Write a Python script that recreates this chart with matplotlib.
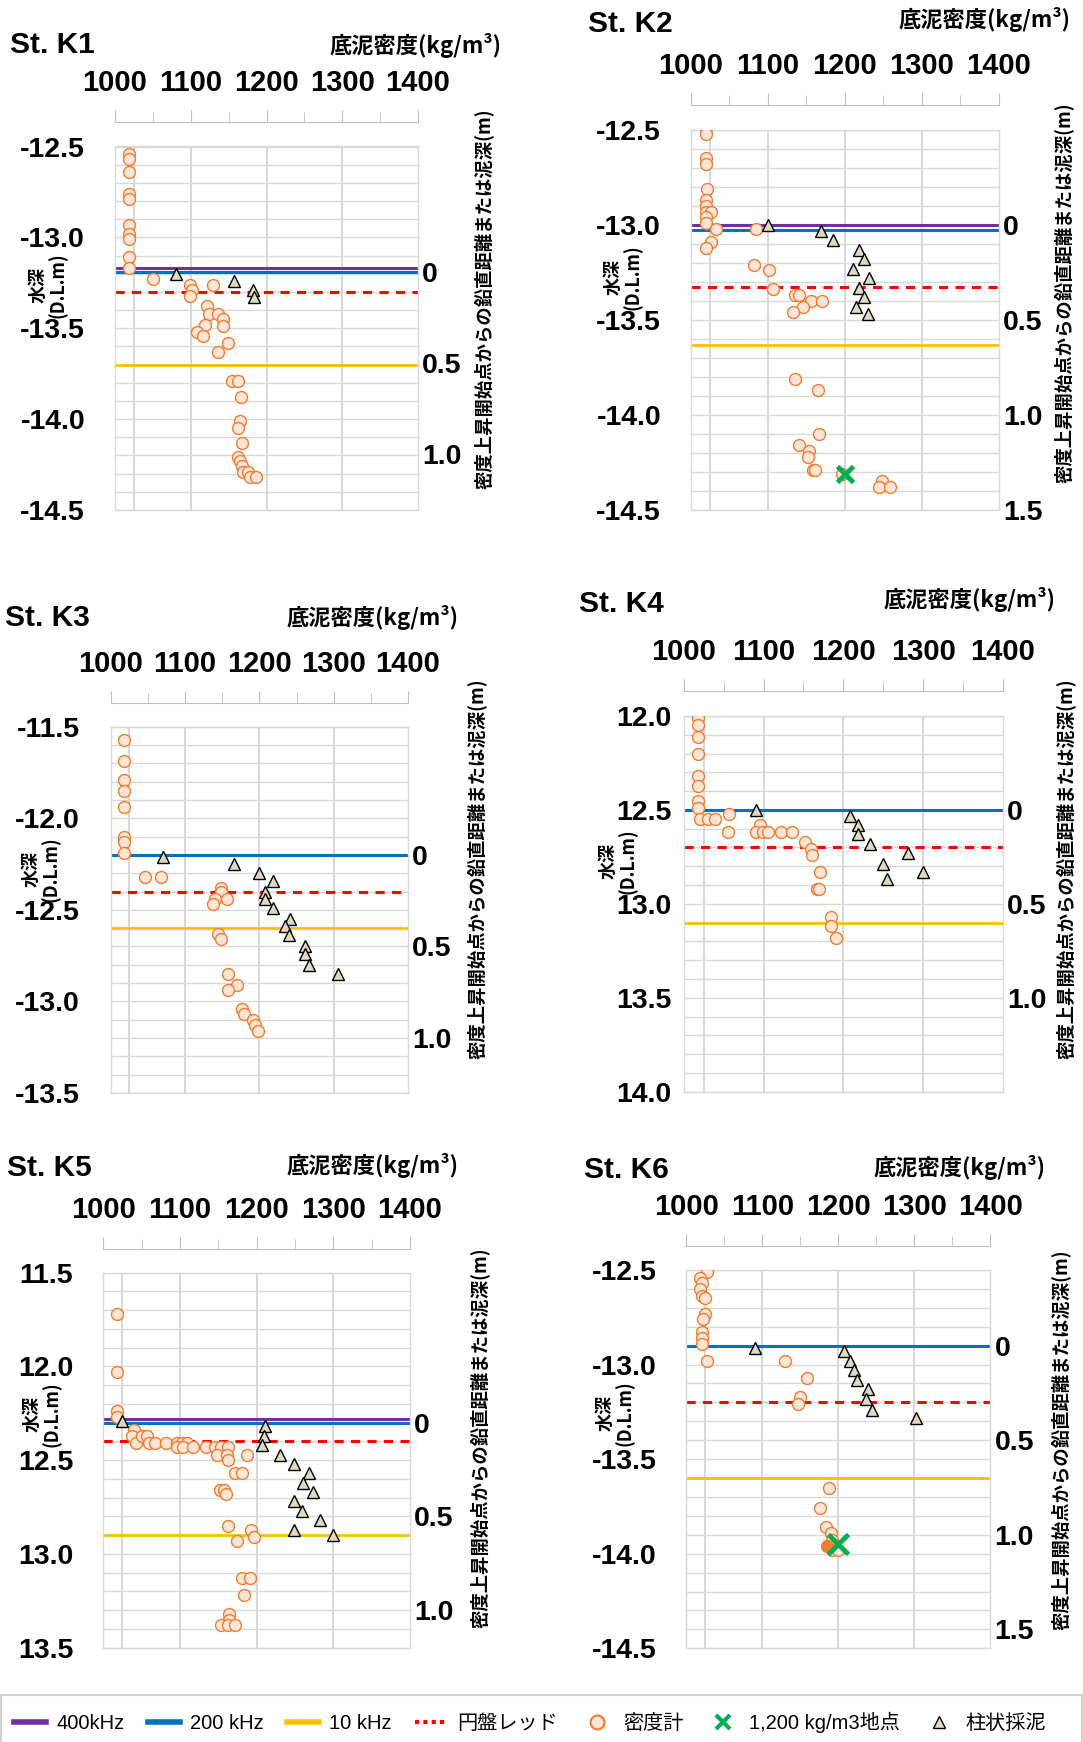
import numpy as np
import matplotlib.pyplot as plt
from matplotlib.lines import Line2D
from matplotlib.patches import Rectangle

plt.rcParams['font.family'] = ['Liberation Sans', 'Noto Sans CJK JP', 'DejaVu Sans']

W, H = 1083, 1742

#---------Data-------------------------------------------------
stations = ['St. K1', 'St. K2', 'St. K3', 'St. K4', 'St. K5', 'St. K6']

# St. K1 (depth negative, D.L.)
k1_dens = [1019, 1019, 1018, 1019, 1019, 1019, 1019, 1019, 1019, 1019, 1050, 1099, 1102, 1099,
           1130, 1121, 1124, 1136, 1143, 1143, 1119, 1108, 1116, 1149, 1136, 1154, 1163, 1166,
           1165, 1163, 1167, 1162, 1165, 1167, 1169, 1176, 1178, 1186]
k1_depth = [-12.54, -12.57, -12.64, -12.76, -12.79, -12.93, -12.98, -13.01, -13.11, -13.17, -13.23,
            -13.26, -13.29, -13.32, -13.26, -13.38, -13.42, -13.42, -13.45, -13.49, -13.48, -13.52,
            -13.54, -13.58, -13.63, -13.79, -13.79, -13.88, -14.01, -14.05, -14.13, -14.21, -14.23,
            -14.26, -14.29, -14.29, -14.32, -14.32]
k1_core_dens = [1081, 1157, 1182, 1184]
k1_core_depth = [-13.20, -13.24, -13.29, -13.33]
k1_x1200 = []
k1_x1200_depth = []
k1_levels = [-13.17, -13.19, -13.70, -13.30]   # 400kHz, 200kHz, 10kHz, 円盤レッド
k1_ylim = (-12.5, -14.5)
k1_zero = -13.19
k1_rticks = [0, 0.5, 1.0]

# St. K2
k2_dens = [1019, 1019, 1019, 1019, 1021, 1019, 1019, 1019, 1026, 1019, 1019, 1032, 1026, 1019,
           1085, 1082, 1102, 1107, 1135, 1140, 1156, 1171, 1145, 1132, 1135, 1165, 1167, 1140,
           1153, 1152, 1158, 1161, 1197, 1249, 1245, 1259]
k2_depth = [-12.49, -12.52, -12.65, -12.68, -12.81, -12.87, -12.90, -12.93, -12.93, -12.96, -12.99,
            -13.02, -13.09, -13.12, -13.02, -13.21, -13.24, -13.34, -13.37, -13.37, -13.40, -13.40,
            -13.43, -13.46, -13.81, -13.87, -14.10, -14.16, -14.19, -14.22, -14.29, -14.29, -14.31,
            -14.35, -14.38, -14.38]
k2_core_dens = [1100, 1169, 1185, 1218, 1225, 1211, 1232, 1218, 1225, 1214, 1230]
k2_core_depth = [-13.00, -13.03, -13.08, -13.13, -13.18, -13.23, -13.28, -13.33, -13.38, -13.43, -13.47]
k2_x1200 = [1200]
k2_x1200_depth = [-14.31]
k2_levels = [-13.00, -13.025, -13.63, -13.325]
k2_ylim = (-12.5, -14.5)
k2_zero = -13.0
k2_rticks = [0, 0.5, 1.0, 1.5]

# St. K3
k3_dens = [1018, 1018, 1018, 1018, 1018, 1018, 1018, 1018, 1046, 1068, 1149, 1149, 1140, 1157,
           1138, 1145, 1148, 1158, 1170, 1158, 1176, 1180, 1191, 1194, 1198]
k3_depth = [-11.57, -11.69, -11.79, -11.85, -11.94, -12.10, -12.13, -12.19, -12.32, -12.32, -12.38,
            -12.40, -12.44, -12.44, -12.47, -12.63, -12.66, -12.85, -12.91, -12.94, -13.04, -13.07,
            -13.10, -13.13, -13.16]
k3_core_dens = [1070, 1166, 1200, 1218, 1208, 1208, 1218, 1241, 1235, 1240, 1261, 1261, 1267, 1306]
k3_core_depth = [-12.21, -12.25, -12.30, -12.34, -12.40, -12.44, -12.49, -12.55, -12.59, -12.64,
                 -12.70, -12.74, -12.80, -12.85]
k3_x1200 = []
k3_x1200_depth = []
k3_levels = [None, -12.20, -12.60, -12.40]
k3_ylim = (-11.5, -13.5)
k3_zero = -12.2
k3_rticks = [0, 0.5, 1.0]

# St. K4 (depth positive)
k4_dens = [1018, 1018, 1018, 1018, 1018, 1018, 1018, 1018, 1020, 1031, 1039, 1057, 1056, 1095,
           1090, 1099, 1106, 1122, 1136, 1152, 1160, 1161, 1171, 1167, 1170, 1185, 1185, 1191]
k4_depth = [12.01, 12.05, 12.11, 12.20, 12.32, 12.37, 12.45, 12.49, 12.55, 12.55, 12.55, 12.52,
            12.62, 12.58, 12.62, 12.62, 12.62, 12.62, 12.62, 12.67, 12.71, 12.74, 12.83, 12.92,
            12.92, 13.07, 13.12, 13.18]
k4_core_dens = [1090, 1208, 1218, 1218, 1234, 1281, 1250, 1255, 1300]
k4_core_depth = [12.50, 12.53, 12.58, 12.63, 12.68, 12.73, 12.79, 12.87, 12.83]
k4_x1200 = []
k4_x1200_depth = []
k4_levels = [None, 12.50, 13.10, 12.70]
k4_ylim = (12.0, 14.0)
k4_zero = 12.5
k4_rticks = [0, 0.5, 1.0]

# St. K5
k5_dens = [1018, 1018, 1018, 1018, 1040, 1037, 1043, 1050, 1057, 1060, 1067, 1082, 1096, 1102,
           1109, 1096, 1104, 1117, 1134, 1146, 1154, 1163, 1148, 1161, 1163, 1187, 1172, 1181,
           1152, 1157, 1160, 1162, 1193, 1196, 1174, 1181, 1191, 1183, 1164, 1164, 1154, 1162, 1172]
k5_depth = [11.72, 12.03, 12.24, 12.27, 12.34, 12.37, 12.41, 12.37, 12.37, 12.41, 12.41, 12.41,
            12.41, 12.41, 12.41, 12.43, 12.43, 12.43, 12.43, 12.43, 12.43, 12.43, 12.47, 12.47,
            12.50, 12.47, 12.57, 12.57, 12.66, 12.66, 12.68, 12.85, 12.87, 12.91, 12.93, 13.13,
            13.13, 13.22, 13.32, 13.35, 13.38, 13.38, 13.38]
k5_core_dens = [1024, 1211, 1210, 1207, 1231, 1249, 1268, 1260, 1273, 1249, 1259, 1283, 1249, 1300]
k5_core_depth = [12.29, 12.32, 12.37, 12.42, 12.47, 12.52, 12.57, 12.62, 12.67, 12.72, 12.77,
                 12.82, 12.87, 12.90]
k5_x1200 = []
k5_x1200_depth = []
k5_levels = [12.28, 12.30, 12.90, 12.40]
k5_ylim = (11.5, 13.5)
k5_zero = 12.3
k5_rticks = [0, 0.5, 1.0]

# St. K6
k6_dens = [1027, 1018, 1020, 1018, 1021, 1024, 1024, 1022, 1020, 1021, 1020, 1027, 1130, 1159,
           1150, 1147, 1188, 1176, 1184, 1190, 1192, 1192, 1200]
k6_depth = [-12.51, -12.54, -12.57, -12.60, -12.64, -12.65, -12.73, -12.76, -12.83, -12.86, -12.89,
            -12.98, -12.98, -13.07, -13.17, -13.21, -13.65, -13.76, -13.86, -13.89, -13.93, -13.98,
            -13.98]
k6_core_dens = [1090, 1208, 1216, 1221, 1225, 1239, 1237, 1244, 1302]
k6_core_depth = [-12.91, -12.93, -12.98, -13.03, -13.08, -13.13, -13.18, -13.24, -13.28]
k6_x1200 = [1200]
k6_x1200_depth = [-13.95]
k6_filled_dens = [1185]
k6_filled_depth = [-13.96]
k6_levels = [None, -12.90, -13.60, -13.20]
k6_ylim = (-12.5, -14.5)
k6_zero = -12.9
k6_rticks = [0, 0.5, 1.0, 1.5]

level_names = ['400kHz', '200 kHz', '10 kHz', '円盤レッド']

#---------Layout (pixels in the 1083x1742 figure)------------------------
# plot box (x0, y0, x1, y1), top axis line y, title right/y, station label left/y,
# left label pad (px), y-label centre, right-label centre
layout = [
    dict(box=(115, 146.5, 418, 510), axy=122.4, tt=(502, 45), st=(10, 45), lpad=30, yl=(48, 285), rl=(484, 299)),
    dict(box=(691, 130, 998.6, 509.7), axy=105, tt=(1071, 19), st=(588, 24), lpad=30, yl=(623.5, 277), rl=(1064, 293)),
    dict(box=(110.7, 726.7, 408, 1093), axy=702.7, tt=(459, 617), st=(5, 618), lpad=30.7, yl=(41, 869), rl=(477, 869)),
    dict(box=(683.7, 716, 1003, 1091.7), axy=691, tt=(1056, 600), st=(579, 604), lpad=12, yl=(618.5, 861), rl=(1066, 869)),
    dict(box=(103.3, 1272.7, 410, 1647.7), axy=1249, tt=(459, 1165), st=(7, 1168), lpad=30, yl=(42.5, 1414), rl=(480, 1437.5)),
    dict(box=(686.3, 1270, 990.3, 1648.3), axy=1245.7, tt=(1046, 1167), st=(584, 1170), lpad=30, yl=(615.5, 1413), rl=(1061, 1439.5)),
]

c_400 = '#7030A0'; c_200 = '#0070C0'; c_10 = '#FFC000'; c_disk = '#FF0000'
c_edge = '#ED7D31'; c_fill = '#FCE4D6'; c_tri = '#DDD9C3'; c_x = '#00B050'
c_grid = '#D9D9D9'
level_colors = [c_400, c_200, c_10, c_disk]
num_size = 20.5
cjk = ['Noto Sans CJK JP', 'DejaVu Sans']

datasets = [
    (k1_dens, k1_depth, k1_core_dens, k1_core_depth, k1_x1200, k1_x1200_depth, k1_levels, k1_ylim, k1_zero, k1_rticks),
    (k2_dens, k2_depth, k2_core_dens, k2_core_depth, k2_x1200, k2_x1200_depth, k2_levels, k2_ylim, k2_zero, k2_rticks),
    (k3_dens, k3_depth, k3_core_dens, k3_core_depth, k3_x1200, k3_x1200_depth, k3_levels, k3_ylim, k3_zero, k3_rticks),
    (k4_dens, k4_depth, k4_core_dens, k4_core_depth, k4_x1200, k4_x1200_depth, k4_levels, k4_ylim, k4_zero, k4_rticks),
    (k5_dens, k5_depth, k5_core_dens, k5_core_depth, k5_x1200, k5_x1200_depth, k5_levels, k5_ylim, k5_zero, k5_rticks),
    (k6_dens, k6_depth, k6_core_dens, k6_core_depth, k6_x1200, k6_x1200_depth, k6_levels, k6_ylim, k6_zero, k6_rticks),
]

fig = plt.figure(figsize=(W / 100, H / 100), dpi=100)


def fx(x):
    return x / W


def fy(y):
    return 1 - y / H


for name, lay, data in zip(stations, layout, datasets):
    dens, depth, cdens, cdepth, xd, xdepth, levels, ylim, zero, rticks = data
    x0, y0, x1, y1 = lay['box']
    ax = fig.add_axes([fx(x0), fy(y1), (x1 - x0) / W, (y1 - y0) / H])
    top, bot = ylim
    sgn = 1 if top > 0 else -1   # positive depths are drawn downward
    ax.set_ylim(bot, top)
    ax.set_xlim(1000, 1400)

    # grid
    ax.set_xticks([1025, 1100, 1200, 1300])
    ax.set_yticks(np.arange(min(ylim), max(ylim) + 0.01, 0.5))
    ax.set_yticks(np.arange(min(ylim), max(ylim) + 0.01, 0.1), minor=True)
    ax.grid(True, which='both', color=c_grid, lw=1.0, zorder=0)
    ax.xaxis.grid(True, color='#D0D0D0', lw=1.2)
    ax.set_axisbelow(True)
    for sp in ax.spines.values():
        sp.set_color(c_grid)
        sp.set_linewidth(1.0)
    ax.tick_params(axis='x', length=0, labelbottom=False)
    ax.tick_params(axis='y', which='both', length=0, pad=lay['lpad'] * 0.72, labelsize=num_size)
    ax.set_yticklabels(['%.1f' % v for v in ax.get_yticks()], fontweight='bold')

    # echo-sounder / disk levels
    for lev, col in zip(levels, level_colors):
        if lev is None:
            continue
        if col == c_disk:
            ax.axhline(lev, color=col, lw=2.2, dashes=(3.0, 2.4), zorder=2)
        else:
            ax.axhline(lev, color=col, lw=2.2 if col != c_10 else 2.0, zorder=2)

    # markers
    ax.plot(dens, depth, ls='', marker='o', ms=8.6, mfc=c_fill, mec=c_edge, mew=1.0, zorder=3)
    if name == 'St. K6':
        ax.plot(k6_filled_dens, k6_filled_depth, ls='', marker='o', ms=8.6, mfc=c_edge, mec=c_edge, zorder=3)
    ax.plot(cdens, cdepth, ls='', marker='^', ms=9, mfc=c_tri, mec='black', mew=1.0, zorder=4)
    if xd:
        ax.plot(xd, xdepth, ls='', marker='x', ms=11 if name == 'St. K2' else 14, mew=3.5, color=c_x, zorder=5)

    # right axis: distance from density rise point / mud depth
    axr = ax.twinx()
    axr.set_ylim((bot - zero) * sgn, (top - zero) * sgn)
    axr.set_yticks(rticks)
    axr.set_yticklabels(['0' if t == 0 else '%.1f' % t for t in rticks], fontweight='bold')
    axr.tick_params(axis='y', length=0, pad=3, labelsize=num_size)
    for sp in axr.spines.values():
        sp.set_visible(False)

    # top density axis, detached above the plot
    axt = fig.add_axes([fx(x0), fy(lay['axy']), (x1 - x0) / W, 0.0001])
    axt.set_xlim(1000, 1400)
    axt.set_xticks(np.arange(1000, 1401, 100))
    axt.set_xticks(np.arange(1050, 1400, 100), minor=True)
    axt.set_yticks([])
    axt.patch.set_visible(False)
    for s in ['top', 'left', 'right']:
        axt.spines[s].set_visible(False)
    axt.spines['bottom'].set_color('#BFBFBF')
    axt.tick_params(axis='x', which='both', direction='in', bottom=True, top=False,
                    labelbottom=False, labeltop=True, color='#BFBFBF', pad=18, labelsize=21)
    axt.tick_params(axis='x', which='major', length=9)
    axt.tick_params(axis='x', which='minor', length=7)
    for t in axt.get_xticklabels():
        t.set_fontweight('bold')

    # texts
    fig.text(fx(lay['tt'][0]), fy(lay['tt'][1]), '底泥密度(kg/m³)', ha='right', va='center',
             fontsize=16, fontweight='bold', family=cjk)
    fig.text(fx(lay['st'][0]), fy(lay['st'][1]), name, ha='left', va='center', fontsize=21.5,
             fontweight='bold', fontstretch='condensed',
             family=['Liberation Sans Narrow', 'Liberation Sans', 'DejaVu Sans'])
    fig.text(fx(lay['yl'][0]), fy(lay['yl'][1]), '水深\n(D.L.m)', rotation=90, ha='center', va='center',
             multialignment='center', fontsize=13, fontweight='bold', linespacing=1.0, family=cjk)
    fig.text(fx(lay['rl'][0]), fy(lay['rl'][1]), '密度上昇開始点からの鉛直距離または泥深(m)', rotation=90,
             ha='center', va='center', fontsize=13.2, fontweight='bold', family=cjk)

# legend
handles = [Line2D([], [], color=c_400, lw=4),
           Line2D([], [], color=c_200, lw=4),
           Line2D([], [], color=c_10, lw=4),
           Line2D([], [], color=c_disk, lw=3, ls=(0, (1, 1))),
           Line2D([], [], ls='', marker='o', ms=10, mfc=c_fill, mec=c_edge, mew=1.5),
           Line2D([], [], ls='', marker='x', ms=10, mew=3, color=c_x),
           Line2D([], [], ls='', marker='^', ms=9, mfc=c_tri, mec='black', mew=1.0)]
labels = level_names + ['密度計', '1,200 kg/m3地点', '柱状採泥']
fig.legend(handles, labels, loc='center', bbox_to_anchor=(fx(530), fy(1722)), ncol=7, frameon=False,
           fontsize=14.5, handlelength=1.6, handletextpad=0.5, columnspacing=1.15)
fig.add_artist(Rectangle((fx(1), fy(1760)), fx(1081), 1 - 1695 / H - fy(1760), transform=fig.transFigure,
                         fill=False, edgecolor='#D0D0D0', lw=1.5))

fig.savefig('out.png', dpi=100)
